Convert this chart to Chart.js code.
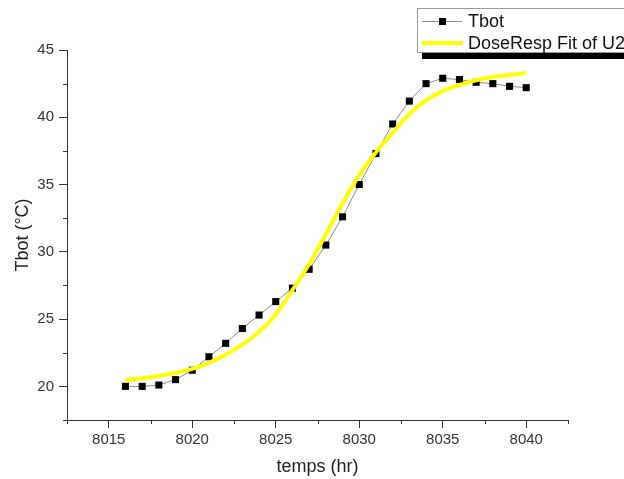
<!DOCTYPE html>
<html>
<head>
<meta charset="utf-8">
<script src="https://cdn.jsdelivr.net/npm/chart.js@4/dist/chart.umd.min.js"></script>
<style>
  html, body { margin: 0; padding: 0; background: #fff; }
  #wrap { width: 624px; height: 479px; }
</style>
</head>
<body>
<div id="wrap"><canvas id="myChart" width="624" height="479"></canvas></div>
<script>
// temps (hr)
const temps = [8016, 8017, 8018, 8019, 8020, 8021, 8022, 8023, 8024, 8025, 8026, 8027, 8028,
  8029, 8030, 8031, 8032, 8033, 8034, 8035, 8036, 8037, 8038, 8039, 8040]
// Tbot measured
const tbot = [20.0, 20.0, 20.1, 20.5, 21.2, 22.2, 23.2, 24.3, 25.3, 26.3, 27.3, 28.7, 30.5,
  32.6, 35.0, 37.3, 39.5, 41.2, 42.5, 42.9, 42.8, 42.6, 42.5, 42.3, 42.2]
// DoseResp fit
const fitValues = [20.47, 20.6, 20.77, 21.0, 21.3, 21.75, 22.35, 23.1, 24.05, 25.35, 27.15, 29.1, 31.3,
  33.6, 35.7, 37.4, 38.85, 40.25, 41.25, 41.95, 42.4, 42.75, 43.0, 43.15, 43.3]

const xTicks = [8015, 8020, 8025, 8030, 8035, 8040]
const yTicks = [20, 25, 30, 35, 40, 45]
const xMinorTicks = [8012.5, 8017.5, 8022.5, 8027.5, 8032.5, 8037.5, 8042.5]
const yMinorTicks = [17.5, 22.5, 27.5, 32.5, 37.5, 42.5]

const axisColor = '#333'
const fontFamily = '"Liberation Sans", Arial, sans-serif'

const minorTicks = {
  id: 'minorTicks',
  afterDraw (chart) {
    const ctx = chart.ctx
    const xs = chart.scales.x
    const ys = chart.scales.y
    const area = chart.chartArea
    ctx.save()
    ctx.strokeStyle = axisColor
    ctx.lineWidth = 1
    ctx.beginPath()
    xMinorTicks.forEach((v) => {
      const px = Math.round(xs.getPixelForValue(v)) + 0.5
      ctx.moveTo(px, area.bottom)
      ctx.lineTo(px, area.bottom + 4)
    })
    yMinorTicks.forEach((v) => {
      const py = Math.round(ys.getPixelForValue(v)) + 0.5
      ctx.moveTo(area.left, py)
      ctx.lineTo(area.left - 4, py)
    })
    ctx.stroke()
    ctx.restore()
  }
}

// Origin style legend box, top right, running off the edge
const legendBox = {
  id: 'legendBox',
  afterDraw (chart) {
    const ctx = chart.ctx
    const sets = chart.data.datasets
    ctx.save()
    ctx.fillStyle = '#000'
    ctx.fillRect(422, 52, 230, 7)
    ctx.fillStyle = '#fff'
    ctx.fillRect(417, 8, 230, 44)
    ctx.strokeStyle = '#999'
    ctx.lineWidth = 1
    ctx.strokeRect(417.5, 8.5, 230, 44)

    // Tbot sample
    const rowY = [21, 43]
    ctx.strokeStyle = sets[0].borderColor
    ctx.lineWidth = 1
    ctx.beginPath()
    ctx.moveTo(422, rowY[0] + 0.5)
    ctx.lineTo(462, rowY[0] + 0.5)
    ctx.stroke()
    ctx.fillStyle = sets[0].pointBackgroundColor
    ctx.fillRect(439, rowY[0] - 3, 7, 7)

    // fit sample
    ctx.strokeStyle = sets[1].borderColor
    ctx.lineWidth = sets[1].borderWidth
    ctx.beginPath()
    ctx.moveTo(422, rowY[1])
    ctx.lineTo(463, rowY[1])
    ctx.stroke()

    ctx.fillStyle = '#111'
    ctx.font = '18px ' + fontFamily
    ctx.textBaseline = 'middle'
    ctx.textAlign = 'left'
    ctx.fillText(sets[0].label, 468, rowY[0] + 1)
    ctx.fillText(sets[1].label, 468, rowY[1] + 1)
    ctx.restore()
  }
}

const showChart = function () {
  const ctx = document.getElementById('myChart').getContext('2d')
  const chart = new Chart(ctx, {
    type: 'scatter',
    data: {
      datasets: [{
        label: 'Tbot',
        data: temps.map((t, i) => ({ x: t, y: tbot[i] })),
        showLine: true,
        borderColor: '#8a8a8a',
        borderWidth: 1,
        pointStyle: 'rect',
        pointRadius: 5,
        pointBorderWidth: 0,
        pointBackgroundColor: '#000',
        pointBorderColor: '#000',
        order: 1
      }, {
        label: 'DoseResp Fit of U2',
        data: temps.map((t, i) => ({ x: t, y: fitValues[i] })),
        showLine: true,
        borderColor: '#ffff00',
        borderWidth: 4,
        pointRadius: 0,
        tension: 0.4,
        cubicInterpolationMode: 'monotone',
        order: 0
      }]
    },
    options: {
      responsive: false,
      devicePixelRatio: 1,
      animation: false,
      layout: {
        padding: { left: 0, top: 50, right: 56, bottom: 0 }
      },
      plugins: {
        legend: { display: false },
        tooltip: { enabled: false }
      },
      scales: {
        x: {
          type: 'linear',
          min: 8012.5,
          max: 8042.5,
          afterBuildTicks: (scale) => { scale.ticks = xTicks.map((v) => ({ value: v })) },
          afterFit: (scale) => { scale.height = 59 },
          ticks: {
            color: '#333',
            font: { family: fontFamily, size: 15 },
            padding: 3,
            maxRotation: 0,
            callback: (v) => String(v)
          },
          grid: {
            display: true,
            drawOnChartArea: false,
            drawTicks: true,
            tickLength: 8,
            tickColor: axisColor,
            tickWidth: 1
          },
          border: { display: true, color: axisColor, width: 1 },
          title: {
            display: true,
            text: 'temps (hr)',
            color: '#222',
            font: { family: fontFamily, size: 18 },
            padding: { top: 1, bottom: 1 }
          }
        },
        y: {
          type: 'linear',
          min: 17.5,
          max: 45,
          afterBuildTicks: (scale) => { scale.ticks = yTicks.map((v) => ({ value: v })) },
          afterFit: (scale) => { scale.width = 67 },
          ticks: {
            color: '#333',
            font: { family: fontFamily, size: 15 },
            padding: 5
          },
          grid: {
            display: true,
            drawOnChartArea: false,
            drawTicks: true,
            tickLength: 8,
            tickColor: axisColor,
            tickWidth: 1
          },
          border: { display: true, color: axisColor, width: 1 },
          title: {
            display: true,
            text: 'Tbot (°C)',
            color: '#222',
            font: { family: fontFamily, size: 18 },
            padding: { top: 12, bottom: 0 }
          }
        }
      }
    },
    plugins: [minorTicks, legendBox]
  })
  return chart
}

showChart()
</script>
</body>
</html>
